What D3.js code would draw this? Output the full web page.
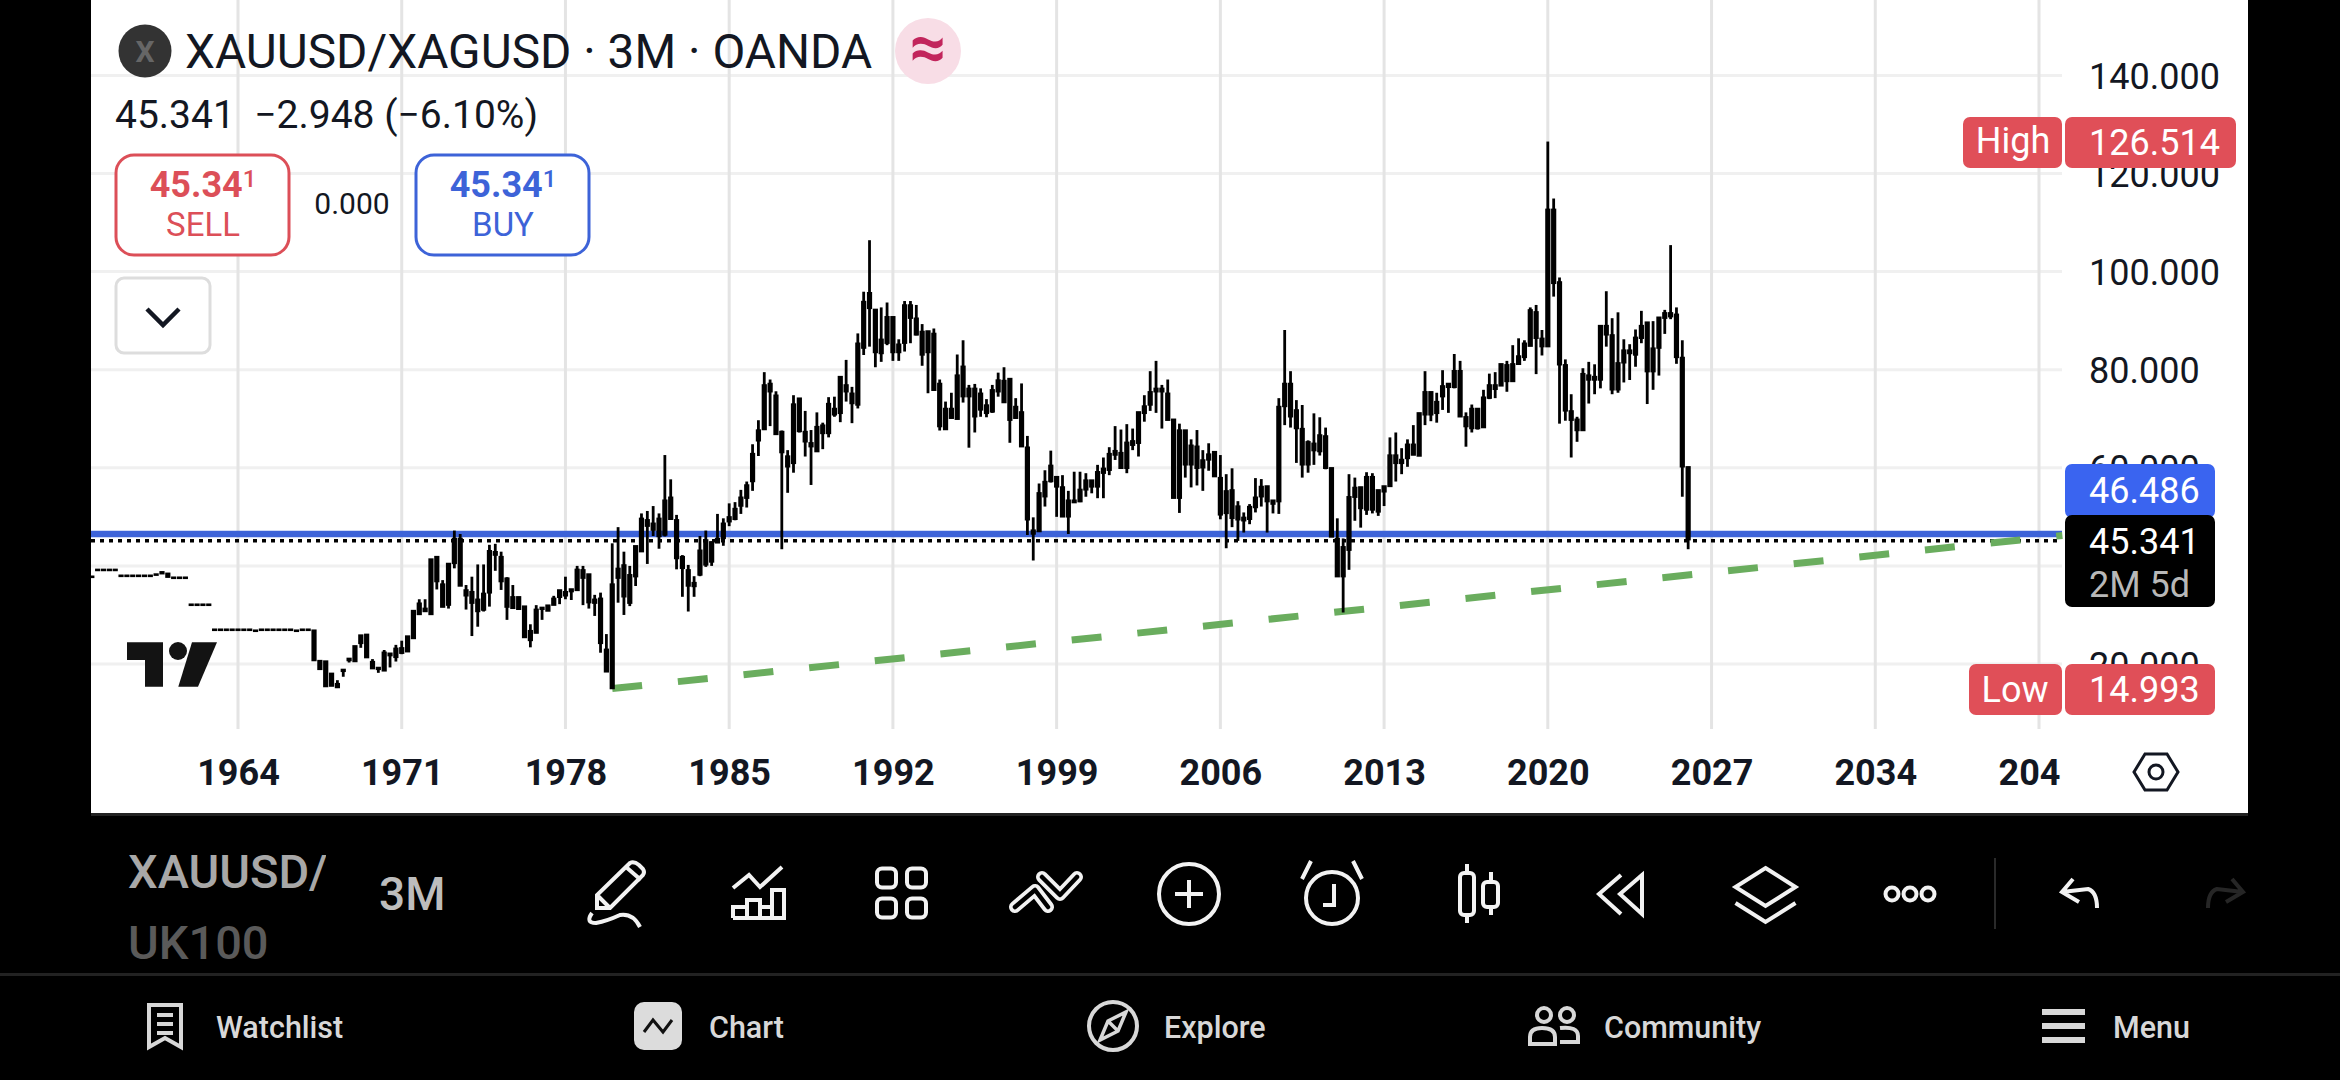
<!DOCTYPE html>
<html>
<head>
<meta charset="utf-8">
<script src="https://cdn.jsdelivr.net/npm/d3@7"></script>
<style>
  html, body { margin: 0; padding: 0; background: #000; }
  svg { display: block; }
  text { font-family: Roboto, sans-serif; }
</style>
</head>
<body>
<svg id="chart" width="2340" height="1080"></svg>
<script>
// quarterly bars, first one is 1957 Q4
var firstBarTime = 1957.75;

var highs = [
  37.9,39.3,39.3,39.3,39.3,38.1,38.1,38.1,38.1,38.1,
  38.1,38.35,38.8,38.5,37.7,37.7,37.7,32.2,32.2,32.2,
  32.2,27.1,27.1,27.1,27.1,27.1,27.1,27.1,26.9,27.1,
  27.1,27.1,27.1,27.1,27.1,26.9,27.1,27.1,26.9,20.7,
  20.6,18.1,16.7,18.9,21.15,23.7,25.9,26.05,21,19.3,
  22.85,22.2,23.9,24.75,25.7,30.9,33.2,33.2,41.4,41.9,
  37.1,40.5,47.2,46.5,36.1,37.8,40.3,40.3,44.3,44.5,
  42.9,37.7,36.1,33.7,31.8,28.1,32,31.55,32,33.9,
  35.1,37.8,35.3,40,40,38.35,34.1,34.55,26.1,44.6,
  47.9,42.9,40,44.1,50.7,51.2,52.2,50.7,62.6,57.65,
  50.4,42.2,40.2,37.9,46.1,47.2,45,50.6,49.7,52.75,
  53,55.5,57.2,64.8,69.7,79.5,78,75.6,67.6,63.6,
  74.8,74.2,71.6,67.7,71.3,69.2,74.4,74.5,78.7,82,
  76.5,87.4,95.9,106.4,92.3,92.7,93.7,90.8,86.2,94,
  94,93.2,89.3,87.9,88.4,78,73.5,75.3,83.1,86,
  76.9,77.1,76.2,74,76.9,79.4,80.5,78.2,74.2,77.2,
  66.5,49.9,56.8,59.5,63.5,58.2,58.5,55.3,59.2,59.2,
  58.9,57.5,60.6,62.1,64.2,68.5,67.8,68.9,68,71.4,
  74.8,79.7,81.8,76.9,78,69.9,69,67.7,65.8,67.7,
  63.6,65,63.3,62.6,58.7,59.9,53.2,50.9,52.6,57.9,
  57.7,56.3,53.4,74.2,88.1,79.7,73.8,72.8,65.6,71.1,
  70.3,68.2,60,49.7,45.6,58.7,58,56.1,59.1,58.9,
  55.5,56.3,66.2,67.2,64,65.8,68.7,71.2,79.7,75.5,
  75.3,79.9,77.2,83.2,81.8,71.3,72.9,72.1,75.9,79.2,
  79.5,81.2,81.8,85,86.4,86,92.7,93.2,88.1,126.514,
  114.9,98.8,82.1,75,70.4,80.3,81.6,81.1,89,96,
  90.5,91.7,86.2,85.2,88.2,92,89.7,89.9,90.7,92.2,
  105.4,92.7,86,60.2
];
var bodyTops = [
  37.9,39.3,39.3,39.3,39.3,38.1,38.1,38.1,38.1,38.1,
  38.1,38.35,38.8,38.5,37.7,37.7,37.7,32.2,32.2,32.2,
  32.2,27.1,27.1,27.1,27.1,27.1,27.1,27.1,26.9,27.1,
  27.1,27.1,27.1,27.1,27.1,26.9,27.1,27.1,26.9,20.7,
  20.6,18.1,16,18.9,21.15,23.7,25.9,26.05,20.5,19.3,
  22.4,22.2,23.2,23.3,25.7,30.9,32.4,31.35,41.4,41.9,
  36.3,40.5,45.6,45.6,35.1,34.75,33.2,34.4,43.1,42.9,
  41.9,37.5,33.7,33.7,31.8,26.8,31.15,31.55,32,33.4,
  35.1,34.75,35.3,39.3,39.2,38.35,33.2,33.4,23,36.3,
  39.5,40.2,38.2,44.1,49.7,49.4,48.7,49.7,53.4,54,
  49.4,41.9,39.2,36.6,43.2,45.3,44.9,45.6,48.7,50,
  51.7,54,56.5,62.9,67.7,76.9,77.2,74.8,67.4,62.4,
  73,74.2,67.4,65.1,68.4,68.7,73.1,72.1,78.6,76.9,
  75.2,85.4,93.9,95.7,92.3,86.2,90.8,90.8,85.2,93.2,
  93.2,90.5,87.8,87.9,87.4,77.2,72.1,72.1,78.9,80.7,
  76.2,76.2,75.2,72.8,75.9,77.9,77.8,78.2,72.5,71.4,
  64.2,47.3,54.9,57.2,60.5,58.2,56.1,53.4,53.4,55.6,
  57.5,57.5,59.2,59.9,62.9,63.5,63.1,65.2,65.5,71.4,
  72.6,75.5,76.2,76.2,75.2,69.9,67.7,67.7,64.6,64.4,
  61.6,62.8,63.3,58,55.3,55.5,52.2,49.9,52.1,54,
  56.2,56.3,53.4,72.5,77.2,77.2,71.8,68,65.3,65,
  66.7,66.5,60,45.6,43.9,54.1,56,56.1,58.2,58.2,
  55.5,56.3,62.6,62.6,61.7,64.8,64.8,71.2,75.5,75.5,
  73.5,76.7,77.2,79.8,79.8,70.4,72.1,72.1,74.4,76.9,
  76.9,81.2,81,81.2,82.8,85.4,92.2,91.8,86.4,112.7,
  112.7,97.9,81,71.6,69.9,79.2,78.9,78.6,89,89,
  87.1,81.4,84,84,86.6,89,89.7,84.4,90.7,91.6,
  91.6,91.3,82.5,60.2
];
var bodyBottoms = [
  37.9,39.3,39.3,39.3,39.3,38.1,38.1,38.1,38.1,38.1,
  38.1,38.35,38.4,37.7,37.7,37.7,37.7,32.2,32.2,32.2,
  32.2,27.1,27.1,27.1,27.1,27.1,27.1,27.1,26.9,27.1,
  27.1,27.1,27.1,27.1,27.1,26.9,27.1,27.1,20.7,18.9,
  15.4,15.5,15.2,18.5,20.7,20.5,24.2,21.3,19.05,18.9,
  18.6,21.7,21.35,22.2,22.5,25.2,30.1,30.7,30.1,36.8,
  31.6,32,40.5,35.9,33.9,32.4,30.7,31,34.5,42.2,
  36.8,31.6,31.35,31.15,25.4,24.8,26.3,31.15,30.8,32,
  33.6,33.9,34.75,35,37.5,32.5,32.4,24.2,18.4,14.993,
  37.5,33.7,32.4,37.8,42.9,48.1,47.3,46,46.3,49.5,
  41.5,39.5,35.9,35.8,38.15,40.2,40.8,44.7,45.6,49,
  49.5,52.2,53.8,57.2,65.5,67.8,75.5,66.8,63.1,60.2,
  60.9,67.4,65.3,64.3,63.3,67,67,70.8,71.1,75.5,
  73.1,72.8,84.4,92.5,83.5,83.3,85.4,83.5,83.5,85.4,
  90.5,87.1,83,83.5,75.8,68.4,67.8,70.1,69.9,74.5,
  74.5,70.4,71.8,71.1,71.4,75.5,73.3,69.7,70.1,64.3,
  49.4,46.5,47,54.1,57.2,56.1,50,50,52.9,53.1,
  55.5,56.1,56.1,58.9,59.5,62.6,59.9,59.9,64.6,65,
  71.1,72.8,75.5,75.5,69.7,53.8,53.8,60.6,60.6,59.9,
  60,61.6,58.2,50.4,50.7,49.7,49.4,49.2,49.5,51.9,
  54.1,53.1,52.6,53.1,72.5,70.4,68,60.6,60.6,63.5,
  63.3,59.9,45.9,37.8,37.8,43.2,54,51.7,51.4,51.4,
  51,55.1,56.2,60.9,60.9,61.9,62.6,62.4,70.8,70.8,
  71.1,74.5,76.4,76.4,70.4,68.4,68,68,68.2,74.2,
  76,76.7,77.6,77.6,81.1,82.5,84.8,86.4,84.7,84.7,
  97.6,81,71.6,69.7,67.6,67.6,77.9,77.9,77.9,87.1,
  75.9,75.9,81.4,83.3,83,86.4,79.6,79.6,84.4,90.5,
  90.8,82.5,60.2,45.341
];
var lows = [
  37.9,39.3,39.3,39.3,39.3,38.1,38.1,38.1,38.1,38.1,
  38.1,38.35,38.4,37.7,37.7,37.7,37.7,32.2,32.2,32.2,
  32.2,27.1,27.1,27.1,27.1,27.1,27.1,27.1,26.9,27.1,
  27.1,27.1,27.1,27.1,27.1,26.9,27.1,27.1,20.7,18.9,
  15.4,15.5,15.1,17.4,20.3,20.5,23.3,21.3,19.05,18.2,
  18.6,19.3,20.5,22,22.5,25.2,30.1,30.7,30.1,35.2,
  31.6,31.3,39.5,35.9,31.1,25.7,27.6,30.7,31.7,39,
  35.1,29,31.3,31.15,25.4,23.4,26.3,29,30.8,32,
  32.2,33.2,33.05,35,32,31.3,29.8,22.3,18.4,14.993,
  32.5,30,31.8,35.9,42.9,40.4,46.1,43.5,46,49.4,
  39.3,33.7,30.7,33.7,37.9,39.8,40,44.7,44.1,48.1,
  49.3,50.6,51.9,55.3,62.4,67.7,68.5,66.8,43.4,54.9,
  59,67.2,62.3,56.5,63.3,63.8,66.2,70.4,69.3,73.5,
  69.1,72.1,83,84.7,80.5,81.6,85,81.8,81.8,83.7,
  85.4,87,80.8,75.2,75.8,67.6,67.8,70,69.9,73.3,
  64.1,67.2,70.4,70.3,71.2,74.5,73.3,65.1,70,64.3,
  46.3,41.1,47,52.1,57,50,50,46.5,52.9,53,
  54.1,54.8,53.8,53.8,58.5,61.6,59.9,58.9,63.6,62.3,
  69.4,71.6,71.2,68,69.7,53.8,50.8,58,56,56.4,
  55.3,59.4,58.2,49.5,43.6,47.9,45.1,46.8,48.5,50.9,
  52.1,46.8,50.7,50.6,68.7,68.2,61,58,59,60.6,
  62.5,59.7,45.9,37.8,30.5,39.2,49.2,47.8,50.4,50.7,
  50.2,52.2,56.2,57.2,58.7,60.2,62.6,62.4,68.7,69.5,
  69.2,71.8,71.2,76.2,70.4,64.3,67.2,67.8,68.2,74,
  74.2,76.7,75.5,77.6,81,81.8,84.8,79.1,82.9,84.7,
  94.9,69,69.6,62.1,65.3,67.6,73.1,75,76.2,84.7,
  75,75.3,77.4,77.9,80.6,85.4,73,75.9,78.8,87.3,
  90.3,81.2,54.1,43.4
];

var yearTicks = [1964,1971,1978,1985,1992,1999,2006,2013,2020,2027,2034,2041];
var yearLabels = ["1964","1971","1978","1985","1992","1999","2006","2013","2020","2027","2034","204"];
var priceTicks = [140,120,100,80,60,40,20];

var highPrice = 126.514, lowPrice = 14.993, linePrice = 46.486, lastPrice = 45.341;
var trendTimes = [1980, 2042];
var trendValues = [14.993, 46.2];

var bars = highs.map(function(h, i){
  return {t: firstBarTime + i/4, high: h, top: bodyTops[i], bottom: bodyBottoms[i], low: lows[i]};
});

var svg = d3.select("#chart");
var plotL = 91, plotR = 2248, axisL = 2062, plotB = 729;

// year 1964 sits at 238, 2041 at 2039. price 140 at 75.4, 20 at 664
var x = d3.scaleLinear().domain([1964, 2041]).range([238, 2039]);
var y = d3.scaleLinear().domain([20, 140]).range([664, 75.4]);

svg.append("rect").attr("width", 2340).attr("height", 1080).attr("fill", "#000");
svg.append("rect").attr("x", plotL).attr("y", 0).attr("width", plotR-plotL).attr("height", 813).attr("fill", "#fff");

// grid
svg.append("g").selectAll("line").data(priceTicks).join("line")
  .attr("x1", plotL).attr("x2", axisL)
  .attr("y1", function(d){ return y(d); }).attr("y2", function(d){ return y(d); })
  .attr("stroke", "#f0f0f0").attr("stroke-width", 3);
svg.append("g").selectAll("line").data(yearTicks).join("line")
  .attr("x1", function(d){ return x(d); }).attr("x2", function(d){ return x(d); })
  .attr("y1", 0).attr("y2", plotB)
  .attr("stroke", "#e4e4e4").attr("stroke-width", 3);

// axes
var xAxis = svg.append("g").attr("transform", "translate(0,755)")
  .call(d3.axisBottom(x).tickValues(yearTicks).tickSize(0).tickFormat(function(d, i){ return yearLabels[i]; }));
xAxis.select(".domain").remove();
xAxis.selectAll("text").attr("font-size", 36).attr("font-weight", 700).attr("fill", "#131722")
  .attr("font-family", "Roboto").attr("y", 0).attr("dy", "0.82em")
  .attr("dx", function(d){ return d === 2041 ? -10 : 0; });

var yAxis = svg.append("g").attr("transform", "translate(2089,1.5)")
  .call(d3.axisRight(y).tickValues(priceTicks).tickSize(0).tickFormat(d3.format(".3f")));
yAxis.select(".domain").remove();
yAxis.selectAll("text").attr("font-size", 36).attr("fill", "#131722").attr("font-family", "Roboto")
  .attr("x", 0).attr("text-anchor", "start");

// price lines and trend line
svg.append("line").attr("x1", plotL).attr("x2", axisL)
  .attr("y1", y(linePrice)).attr("y2", y(linePrice))
  .attr("stroke", "#3d63d8").attr("stroke-width", 6.5);
svg.append("line").attr("x1", plotL).attr("x2", axisL)
  .attr("y1", y(lastPrice)+1).attr("y2", y(lastPrice)+1)
  .attr("stroke", "#000").attr("stroke-width", 3.5).attr("stroke-dasharray", "4 5");
svg.append("line")
  .attr("x1", x(trendTimes[0])).attr("x2", x(trendTimes[1]))
  .attr("y1", y(trendValues[0])).attr("y2", y(trendValues[1]))
  .attr("stroke", "#6aad5e").attr("stroke-width", 7).attr("stroke-dasharray", "30 36");

// candles, everything black
var candles = svg.append("g");
candles.selectAll("line.wick").data(bars).join("line").attr("class", "wick")
  .attr("x1", function(d){ return x(d.t); }).attr("x2", function(d){ return x(d.t); })
  .attr("y1", function(d){ return y(d.high); }).attr("y2", function(d){ return y(d.low); })
  .attr("stroke", "#000").attr("stroke-width", 2.8);
candles.selectAll("rect.body").data(bars).join("rect").attr("class", "body")
  .attr("x", function(d){ return x(d.t) - 2.6; }).attr("width", 5.2)
  .attr("y", function(d){ return y(d.top) - 0.7; })
  .attr("height", function(d){ return Math.max(y(d.bottom) - y(d.top), 1.2) + 1.4; })
  .attr("fill", "#000");

// tradingview logo
var logo = svg.append("g").attr("fill", "#131313");
logo.append("path").attr("d", "M127 642.3H163V686.7H145V660H127Z");
logo.append("circle").attr("cx", 178).attr("cy", 651).attr("r", 9);
logo.append("path").attr("d", "M192 642.3H217L198 686.7H178.3Z");

// header
svg.append("circle").attr("cx", 145).attr("cy", 51).attr("r", 26.5).attr("fill", "#333");
svg.append("text").attr("x", 145).attr("y", 62).attr("text-anchor", "middle")
  .attr("font-size", 30).attr("font-weight", 700).attr("fill", "#666").text("X");
svg.append("text").attr("x", 185).attr("y", 68).attr("font-size", 47.8).attr("fill", "#131722")
  .text("XAUUSD/XAGUSD · 3M · OANDA");
svg.append("circle").attr("cx", 928).attr("cy", 51).attr("r", 33).attr("fill", "#f8dde6");
svg.append("text").attr("x", 928).attr("y", 69).attr("text-anchor", "middle")
  .attr("font-size", 64).attr("font-weight", 700).attr("fill", "#c2255c").text("≈");
svg.append("text").attr("x", 115).attr("y", 128).attr("font-size", 39).attr("fill", "#131722").attr("xml:space", "preserve")
  .text("45.341  −2.948 (−6.10%)");

function tradeBox(bx, color, label){
  svg.append("rect").attr("x", bx).attr("y", 155).attr("width", 173).attr("height", 100).attr("rx", 18)
    .attr("fill", "#fff").attr("stroke", color).attr("stroke-width", 3);
  var t = svg.append("text").attr("x", bx+87).attr("y", 197).attr("text-anchor", "middle")
    .attr("font-size", 36).attr("font-weight", 700).attr("fill", color).text("45.34");
  t.append("tspan").attr("font-size", 24).attr("font-weight", 500).attr("dy", -10).text("1");
  svg.append("text").attr("x", bx+87).attr("y", 236).attr("text-anchor", "middle")
    .attr("font-size", 33).attr("fill", color).text(label);
}
tradeBox(116, "#dc4f58", "SELL");
tradeBox(416, "#3d63d8", "BUY");
svg.append("text").attr("x", 352).attr("y", 214).attr("text-anchor", "middle")
  .attr("font-size", 30).attr("fill", "#131722").text("0.000");

svg.append("rect").attr("x", 116).attr("y", 278).attr("width", 94).attr("height", 75).attr("rx", 8)
  .attr("fill", "#fff").attr("stroke", "#ddd").attr("stroke-width", 3);
svg.append("path").attr("d", "M147 309L163 325L179 309").attr("fill", "none")
  .attr("stroke", "#131722").attr("stroke-width", 4.5);

// right side tags
function tag(tx, ty, w, h, color, corners){
  svg.append("rect").attr("x", tx).attr("y", ty).attr("width", w).attr("height", h).attr("rx", corners).attr("fill", color);
}
var red = "#e04f58";
tag(1963, 117, 99, 51, red, 7);
tag(2065, 117, 171, 51, red, 7);
svg.append("text").attr("x", 2013).attr("y", 153).attr("text-anchor", "middle").attr("font-size", 36).attr("fill", "#fff").text("High");
svg.append("text").attr("x", 2089).attr("y", 155).attr("font-size", 36).attr("fill", "#fff").text(d3.format(".3f")(highPrice));

tag(1969, 664, 93, 51, red, 7);
tag(2065, 664, 150, 51, red, 7);
svg.append("text").attr("x", 2015).attr("y", 702).attr("text-anchor", "middle").attr("font-size", 36).attr("fill", "#fff").text("Low");
svg.append("text").attr("x", 2089).attr("y", 702).attr("font-size", 36).attr("fill", "#fff").text(d3.format(".3f")(lowPrice));

tag(2065, 464, 150, 54, "#3a64f0", 7);
svg.append("text").attr("x", 2089).attr("y", 503).attr("font-size", 36).attr("fill", "#fff").text(d3.format(".3f")(linePrice));
tag(2065, 515, 150, 92, "#000", 7);
svg.append("text").attr("x", 2089).attr("y", 554).attr("font-size", 36).attr("fill", "#fff").text(d3.format(".3f")(lastPrice));
svg.append("text").attr("x", 2089).attr("y", 597).attr("font-size", 36).attr("fill", "#b8b8b8").text("2M 5d");

// hexagon settings icon
svg.append("path").attr("d", "M2134 772L2145 754H2167L2178 772L2167 790H2145Z").attr("fill", "none")
  .attr("stroke", "#131722").attr("stroke-width", 3);
svg.append("circle").attr("cx", 2156).attr("cy", 772).attr("r", 7).attr("fill", "none")
  .attr("stroke", "#131722").attr("stroke-width", 3);

// toolbar
svg.append("rect").attr("x", 91).attr("y", 813).attr("width", plotR-plotL).attr("height", 3).attr("fill", "#222");
svg.append("rect").attr("x", 0).attr("y", 973).attr("width", 2340).attr("height", 3).attr("fill", "#222");

svg.append("clipPath").attr("id", "symClip").append("rect").attr("x", 120).attr("y", 830).attr("width", 206).attr("height", 140);
var sym = svg.append("g").attr("clip-path", "url(#symClip)");
sym.append("text").attr("x", 128).attr("y", 888).attr("font-size", 47).attr("font-weight", 500).attr("fill", "#a8a8a8").text("XAUUSD/");
sym.append("text").attr("x", 128).attr("y", 959).attr("font-size", 47).attr("font-weight", 500).attr("fill", "#5a5a5a").text("UK100");
svg.append("text").attr("x", 379).attr("y", 910).attr("font-size", 46).attr("font-weight", 500).attr("fill", "#bdbdbd").text("3M");

function icon(cx, cy, color){
  return svg.append("g").attr("transform", "translate(" + cx + "," + cy + ")")
    .attr("fill", "none").attr("stroke", color || "#f2f2f2").attr("stroke-width", 4);
}
// pencil
var ic = icon(613, 895);
ic.append("path").attr("d", "M-16 13V0L17 -32Q21 -34 26 -30L30 -26Q32 -23 30 -20L-3 13Z M-16 0L-3 13 M13 -28L28 -15");
ic.append("path").attr("d", "M-21 18Q-28 28 -17 28Q-6 26 7 20Q20 18 27 32");
// indicators
ic = icon(758, 894);
ic.append("path").attr("d", "M-25 -6L-9 -19L2 -7L24 -27");
ic.append("path").attr("d", "M-25 24H26V-4H14V24 M14 13H2V24 M2 24V6H-11V24 M-11 13H-25V24");
// layout grid
ic = icon(901.5, 893);
[-15, 15].forEach(function(dx){ [-15, 15].forEach(function(dy){
  ic.append("rect").attr("x", dx-9.5).attr("y", dy-9.5).attr("width", 19).attr("height", 19).attr("rx", 5);
}); });
// double chevron tool, outline made from a wide white stroke with a thin black one on top
ic = icon(1046, 894);
var chevrons = "M-31 13L-11 -4L2 13 M-4 -17L14 1L31 -17";
ic.append("path").attr("d", chevrons).attr("stroke-width", 12).attr("stroke-linecap", "round").attr("stroke-linejoin", "round");
ic.append("path").attr("d", chevrons).attr("stroke", "#000").attr("stroke-width", 4.5).attr("stroke-linecap", "round").attr("stroke-linejoin", "round");
// plus circle
ic = icon(1189, 894);
ic.append("circle").attr("r", 30);
ic.append("path").attr("d", "M-14 0H14 M0 -14V14");
// alarm
ic = icon(1332, 895);
ic.append("circle").attr("r", 26).attr("cy", 3);
ic.append("path").attr("d", "M2 -11V10H-9 M-30 -16L-21 -34 M30 -16L21 -34");
// candles
ic = icon(1477, 894);
ic.append("rect").attr("x", -17).attr("y", -21).attr("width", 14).attr("height", 42).attr("rx", 4);
ic.append("rect").attr("x", 6).attr("y", -12).attr("width", 15).attr("height", 25).attr("rx", 4);
ic.append("path").attr("d", "M-10 -21V-30 M-10 21V29 M14 -12V-22 M14 13V21");
// rewind
ic = icon(1622, 894);
ic.append("path").attr("d", "M-1 -19L-23 0L-1 20 M20 -19L-2 0L20 20Z");
// layers
ic = icon(1765.5, 894);
ic.append("path").attr("d", "M0 -26L30 -7L0 12L-30 -7Z M-30 9L0 28L30 9");
// dots
ic = icon(1910, 894);
[-18, 0, 18].forEach(function(dx){ ic.append("circle").attr("cx", dx).attr("r", 6.5); });
svg.append("line").attr("x1", 1995).attr("x2", 1995).attr("y1", 858).attr("y2", 929).attr("stroke", "#2a2a2a").attr("stroke-width", 2);
// undo, redo
ic = icon(2080, 894);
ic.append("path").attr("d", "M-7 -15L-18 -2L-1 8 M-18 -2L8 -5Q17 -2 17 14");
ic = icon(2225, 894, "#262626");
ic.append("path").attr("d", "M7 -15L18 -2L1 8 M18 -2L-8 -5Q-17 -2 -17 14");

// bottom nav
var navNames = ["Watchlist", "Chart", "Explore", "Community", "Menu"];
var navX = [216, 709, 1164, 1604, 2113];
svg.append("g").selectAll("text").data(navNames).join("text")
  .attr("x", function(d, i){ return navX[i]; }).attr("y", 1038)
  .attr("font-size", 30.5).attr("font-weight", 500).attr("fill", "#d8d8d8")
  .text(function(d){ return d; });

ic = icon(165, 1026, "#d8d8d8");
ic.append("path").attr("d", "M-16 21V-21H16V21L0 12Z M-8 -11H8 M-8 -2H8 M-8 7H8");
svg.append("rect").attr("x", 634).attr("y", 1002).attr("width", 48).attr("height", 48).attr("rx", 10).attr("fill", "#dcdcdc");
ic = icon(658, 1026, "#111");
ic.attr("stroke-width", 3).append("path").attr("d", "M-14 6L-5 -6L5 6L14 -6");
ic = icon(1113, 1026, "#d8d8d8");
ic.append("circle").attr("r", 24);
ic.append("path").attr("d", "M13 -14L5 5L-13 14L-5 -5Z M-5 -5L5 5").attr("stroke-width", 3.5);
ic = icon(1554, 1026, "#d8d8d8");
ic.append("circle").attr("cx", -10).attr("cy", -11).attr("r", 7);
ic.append("circle").attr("cx", 13).attr("cy", -11).attr("r", 7);
ic.append("path").attr("d", "M-24 18V11Q-24 2 -12 2Q1 2 1 11V18Z M6 2Q24 0 24 10V16H6");
svg.append("g").attr("fill", "#d8d8d8").selectAll("rect").data([1009, 1023, 1037]).join("rect")
  .attr("x", 2042).attr("y", function(d){ return d; }).attr("width", 43).attr("height", 6);
</script>
</body>
</html>
